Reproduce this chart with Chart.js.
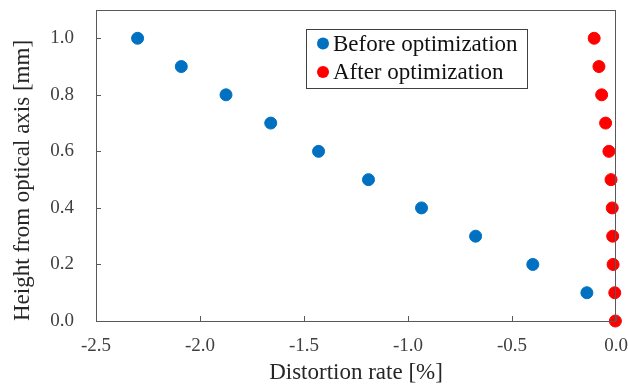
<!DOCTYPE html>
<html><head><meta charset="utf-8">
<script src="https://cdn.jsdelivr.net/npm/chart.js@4/dist/chart.umd.min.js"></script>
<style>html,body{margin:0;padding:0;background:#fff}#wrap{width:628px;height:388px}</style>
</head><body><div id="wrap"><canvas id="c" width="628" height="388"></canvas></div>
<script>
const heights = [1.0, 0.9, 0.8, 0.7, 0.6, 0.5, 0.4, 0.3, 0.2, 0.1];
const beforeRates = [-2.30, -2.09, -1.875, -1.66, -1.43, -1.19, -0.935, -0.675, -0.40, -0.14];
const afterHeights = [1.0, 0.9, 0.8, 0.7, 0.6, 0.5, 0.4, 0.3, 0.2, 0.1, 0.0];
const afterRates = [-0.105, -0.082, -0.069, -0.05, -0.034, -0.024, -0.018, -0.016, -0.014, -0.006, -0.003];
const xTicks = [-2.5, -2.0, -1.5, -1.0, -0.5, 0.0];
const yTicks = [0.0, 0.2, 0.4, 0.6, 0.8, 1.0];
const seriesLabels = ['Before optimization', 'After optimization'];
const seriesColors = ['#0070C0', '#FF0000'];

const serif = "'Liberation Serif','DejaVu Serif',serif";
const frame = {
  id: 'frame',
  afterDraw(chart) {
    const {ctx, chartArea: a, scales: {x, y}} = chart;
    ctx.save();
    ctx.strokeStyle = '#595959';
    ctx.lineWidth = 1;
    ctx.strokeRect(a.left + 0.5, a.top + 0.5, a.right - a.left - 1, a.bottom - a.top);
    ctx.beginPath();
    xTicks.forEach(v => { const px = Math.round(x.getPixelForValue(v)) + 0.5; ctx.moveTo(px, a.bottom); ctx.lineTo(px, a.bottom - 5); });
    yTicks.forEach(v => { const py = Math.round(y.getPixelForValue(v)) + 0.5; ctx.moveTo(a.left, py); ctx.lineTo(a.left + 5, py); });
    ctx.stroke();
    // legend
    const lx = 306.5, ly = 29.5, lw = 221, lh = 59;
    ctx.fillStyle = '#fff';
    ctx.fillRect(lx, ly, lw, lh);
    ctx.strokeStyle = '#404040';
    ctx.strokeRect(lx, ly, lw, lh);
    ctx.font = '23px ' + serif;
    ctx.textBaseline = 'alphabetic';
    chart.data.datasets.forEach((ds, i) => {
      const cy = 43.5 + i * 28.5;
      ctx.fillStyle = ds.backgroundColor;
      ctx.beginPath(); ctx.arc(323, cy, 6, 0, Math.PI * 2); ctx.fill();
      ctx.fillStyle = '#111';
      ctx.fillText(ds.label, 333, cy + 7);
    });
    ctx.restore();
  }
};

new Chart(document.getElementById('c'), {
  type: 'scatter',
  data: {
    datasets: [
      { label: seriesLabels[0], data: beforeRates.map((v, i) => ({x: v, y: heights[i]})), backgroundColor: seriesColors[0], borderColor: seriesColors[0], pointRadius: 6, pointHoverRadius: 6 },
      { label: seriesLabels[1], data: afterRates.map((v, i) => ({x: v, y: afterHeights[i]})), backgroundColor: seriesColors[1], borderColor: seriesColors[1], pointRadius: 6, pointHoverRadius: 6, clip: false }
    ]
  },
  options: {
    responsive: false, animation: false,
    layout: { padding: { top: 10, right: 12, left: 0, bottom: 0 } },
    plugins: { legend: { display: false }, tooltip: { enabled: false } },
    scales: {
      x: {
        type: 'linear', min: -2.5, max: 0,
        afterBuildTicks: s => { s.ticks = xTicks.map(v => ({value: v})); },
        afterFit: s => { s.height = 67; s.paddingLeft = 0; s.paddingRight = 0; },
        grid: { display: false, drawTicks: false },
        border: { display: false },
        ticks: { padding: 14, color: '#404040', font: { family: serif, size: 19 }, callback: v => v.toFixed(1), maxRotation: 0 },
        title: { display: true, text: 'Distortion rate [%]', color: '#262626', font: { family: serif, size: 23 }, padding: { top: 0, bottom: 1 } }
      },
      y: {
        type: 'linear', min: 0, max: 1.1,
        afterBuildTicks: s => { s.ticks = yTicks.map(v => ({value: v})); },
        afterFit: s => { s.width = 96; s.paddingTop = 0; s.paddingBottom = 0; },
        grid: { display: false, drawTicks: false },
        border: { display: false },
        ticks: { padding: 22, color: '#404040', font: { family: serif, size: 19 }, callback: v => v.toFixed(1) },
        title: { display: true, align: 'start', text: 'Height from optical axis [mm]', color: '#262626', font: { family: serif, size: 23 }, padding: { top: 9, bottom: 4 } }
      }
    }
  },
  plugins: [frame]
});
</script></body></html>
